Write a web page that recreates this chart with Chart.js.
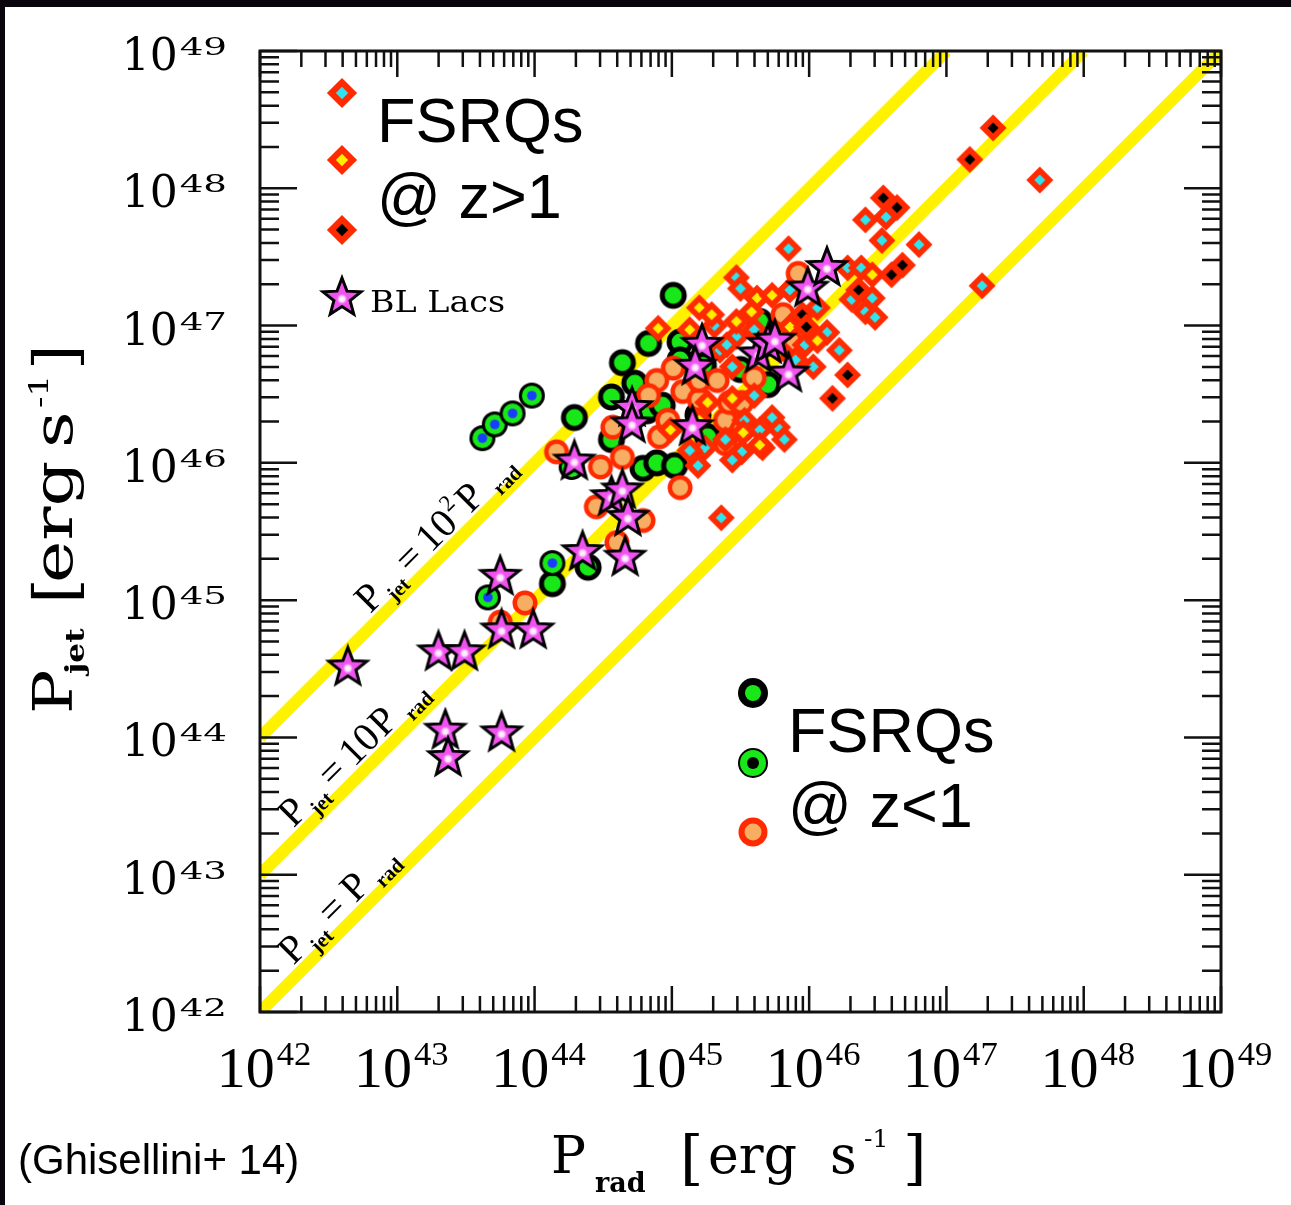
<!DOCTYPE html>
<html>
<head>
<meta charset="utf-8">
<script src="https://cdn.jsdelivr.net/npm/chart.js@4.4.0/dist/chart.umd.min.js"></script>
<style>
html, body { margin: 0; padding: 0; background: #fff; overflow: hidden; }
canvas { display: block; }
</style>
</head>
<body>
<canvas id="plot" width="1291" height="1205"></canvas>
<script>

// values are log10 of the powers in erg/s

var decades = [42, 43, 44, 45, 46, 47, 48, 49];
var ratios = [1, 10, 100];   // P_jet = r * P_rad

// FSRQs z>1, cyan centre
var hiCyanX = [47.68, 46.41, 46.56, 46.53, 46.80, 45.85, 47.26, 46.28, 46.38, 46.31, 46.46, 46.41, 46.48,
  46.13, 46.06, 45.47, 45.50, 46.22, 46.03, 45.77, 45.73, 45.66, 45.51, 45.44, 45.19, 45.36, 45.44,
  45.31, 45.47, 45.60, 45.82, 45.53, 45.39, 45.35, 45.90, 45.64, 45.24, 45.86, 45.40, 45.60, 45.97, 45.13];
var hiCyanY = [48.06, 47.77, 47.79, 47.62, 47.59, 47.56, 47.29, 47.42, 47.42, 47.19, 47.20, 47.10, 47.06,
  46.95, 47.13, 47.35, 47.27, 46.82, 46.70, 46.26, 46.33, 46.11, 46.08, 46.02, 45.98, 45.60, 46.70,
  47.00, 46.92, 46.49, 46.17, 46.31, 46.17, 46.82, 46.75, 46.24, 46.11, 47.26, 46.86, 46.97, 46.86, 46.09];

// FSRQs z>1, yellow centre
var hiYellowX = [46.46, 45.20, 45.29, 45.62, 45.73, 45.58, 45.47, 45.86, 46.06, 45.44, 45.52, 45.26, 44.99, 44.90, 45.79, 45.20, 45.13, 45.64];
var hiYellowY = [47.37, 47.13, 47.08, 47.20, 47.22, 47.10, 47.03, 46.99, 46.89, 46.47, 46.22, 46.44, 46.24, 46.98, 46.82, 46.31, 46.97, 46.13];

// FSRQs z>1, black centre
var hiBlackX = [47.34, 47.17, 46.54, 46.64, 46.68, 46.60, 46.36, 45.95, 45.98, 46.28, 46.17];
var hiBlackY = [48.44, 48.21, 47.93, 47.86, 47.44, 47.37, 47.26, 47.08, 46.99, 46.64, 46.47];

// FSRQs z<1, green with black rim
var loGreenX = [45.01, 44.83, 44.64, 44.56, 44.29, 44.56, 44.82, 44.93, 44.79, 44.89, 45.02, 45.26, 44.13,
  44.39, 45.06, 45.06, 45.23, 45.70, 45.70, 44.73, 45.50, 45.64, 45.19];
var loGreenY = [47.22, 46.87, 46.73, 46.48, 46.33, 46.17, 46.38, 46.42, 45.96, 46.00, 45.98, 46.19, 45.12,
  45.24, 46.88, 46.75, 46.71, 46.57, 46.97, 46.58, 46.68, 47.03, 46.35];

// FSRQs z<1, green with blue centre
var loBlueX = [43.62, 43.71, 43.84, 43.98, 44.13, 43.66, 44.27];
var loBlueY = [46.18, 46.28, 46.36, 46.49, 45.27, 45.02, 45.97];

// FSRQs z<1, red rim orange centre
var loOrangeX = [44.16, 44.48, 44.64, 44.57, 45.06, 44.79, 44.45, 44.60, 43.93, 45.01, 44.89, 45.08, 43.75,
  45.46, 45.39, 45.51, 45.20, 45.92, 45.81, 45.87, 45.60, 45.42, 45.51, 45.39, 44.91, 44.83, 45.20, 45.33, 44.97];
var loOrangeY = [46.08, 45.97, 46.04, 46.26, 45.82, 45.58, 45.68, 45.42, 44.98, 46.69, 46.60, 46.52, 44.84,
  46.42, 46.31, 46.24, 46.46, 47.38, 47.08, 46.88, 46.62, 46.44, 46.44, 46.14, 46.19, 46.49, 46.60, 46.60, 46.31];

// BL Lacs
var blLacX = [42.64, 43.30, 43.49, 43.76, 43.99, 43.75, 43.35, 43.37, 43.76, 44.29, 44.35, 44.66, 44.56,
  44.64, 44.68, 44.71, 44.71, 45.15, 45.22, 45.17, 45.63, 45.70, 45.85, 45.99, 46.13, 45.75];
var blLacY = [44.51, 44.62, 44.62, 44.78, 44.78, 45.17, 44.05, 43.85, 44.03, 46.01, 45.35, 45.31, 45.75,
  45.80, 45.60, 46.40, 46.28, 46.26, 46.86, 46.70, 46.79, 46.86, 46.65, 47.27, 47.42, 46.89];

function pts(xs, ys) {
  return xs.map(function(v, i) { return { x: Math.pow(10, v), y: Math.pow(10, ys[i]) }; });
}

// marker images
function mk(size, draw) {
  var c = document.createElement('canvas');
  c.width = c.height = size;
  var g = c.getContext('2d');
  g.translate(size / 2, size / 2);
  draw(g);
  return c;
}
function dia(g, r) {
  g.beginPath(); g.moveTo(0, -r); g.lineTo(r, 0); g.lineTo(0, r); g.lineTo(-r, 0); g.closePath();
}
function disc(g, r, col) {
  g.beginPath(); g.arc(0, 0, r, 0, Math.PI * 2); g.fillStyle = col; g.fill();
}
function diamond(inner, s) {
  return mk(36, function(g) {
    g.scale(s, s);
    g.fillStyle = '#ff2a00'; dia(g, 13.5); g.fill();
    g.fillStyle = inner; dia(g, 5.5); g.fill();
  });
}
var RED = '#ff2a00', GREEN = '#18e818', ORANGE = '#f7ae62', BLUE = '#1a3cff', MAG = '#f052f0';

var mCyan = diamond('#2fe4ee', 1);
var mYellow = diamond('#ffee00', 1);
var mBlack = diamond('#000', 1);
var lCyan = diamond('#2fe4ee', 1.12);
var lYellow = diamond('#ffee00', 1.12);
var lBlack = diamond('#000', 1.12);
var mGreen = mk(30, function(g) { disc(g, 13.5, '#000'); disc(g, 8.5, GREEN); });
var mBlue = mk(30, function(g) { disc(g, 13, '#000'); disc(g, 10, GREEN); disc(g, 4.8, BLUE); });
var mOrange = mk(30, function(g) { disc(g, 12.5, RED); disc(g, 8, ORANGE); });
var mLegGreen = mk(34, function(g) { disc(g, 15, '#000'); disc(g, 8, GREEN); });
var mLegRing = mk(34, function(g) { disc(g, 15, '#000'); disc(g, 13, GREEN); disc(g, 6, '#000'); });
var mLegOrange = mk(34, function(g) { disc(g, 14.5, RED); disc(g, 8.5, ORANGE); });
var mStar = mk(48, function(g) {
  g.beginPath();
  for (var i = 0; i < 10; i++) {
    var a = -Math.PI / 2 + i * Math.PI / 5, r = i % 2 ? 8.5 : 20;
    g.lineTo(r * Math.cos(a), r * Math.sin(a));
  }
  g.closePath();
  g.fillStyle = MAG; g.fill();
  g.lineWidth = 3; g.strokeStyle = '#000'; g.stroke();
  var rg = g.createRadialGradient(0, 1, 0, 0, 1, 6);
  rg.addColorStop(0, '#fff'); rg.addColorStop(0.5, '#fbd6fb'); rg.addColorStop(1, 'rgba(240,82,240,0)');
  g.fillStyle = rg; g.beginPath(); g.arc(0, 1, 6, 0, Math.PI * 2); g.fill();
});

// text helpers
function txt(ctx, s, x, y, font, sx) {
  ctx.save();
  ctx.translate(x, y);
  if (sx) ctx.scale(sx, 1);
  ctx.font = font;
  ctx.fillText(s, 0, 0);
  ctx.restore();
}
function wid(ctx, s, font, sx) {
  ctx.font = font;
  return ctx.measureText(s).width * (sx || 1);
}
function parts(ctx, x, y, ang, list) {
  ctx.save();
  ctx.translate(x, y);
  ctx.rotate(ang);
  list.forEach(function(p) { txt(ctx, p[0], p[1], p[2], p[3], p[4]); });
  ctx.restore();
}

var SER = 'px "DejaVu Serif"';
var TIM = 'px "Liberation Serif"';
var SANS = 'px "Liberation Sans"';

var decor = {
  id: 'decor',
  beforeDraw: function(chart) {
    var ctx = chart.ctx, W = ctx.canvas.width, H = ctx.canvas.height;
    ctx.save();
    ctx.setTransform(1, 0, 0, 1, 0, 0);
    ctx.fillStyle = '#fff';
    ctx.fillRect(0, 0, W, H);
    ctx.fillStyle = '#0a040c';
    ctx.fillRect(0, 0, W, 7);
    ctx.fillRect(0, 0, 5, H);
    ctx.restore();
  },
  afterDraw: function(chart) {
    var ctx = chart.ctx, a = chart.chartArea, xs = chart.scales.x, ys = chart.scales.y;
    ctx.save();

    // inward ticks on all four sides
    ctx.strokeStyle = '#111';
    ctx.lineWidth = 2.5;
    ctx.beginPath();
    decades.forEach(function(k) {
      for (var m = 1; m <= 9; m++) {
        if (k === 49 && m > 1) break;
        var v = m * Math.pow(10, k);
        var px = xs.getPixelForValue(v), py = ys.getPixelForValue(v);
        var lx = m === 1 ? 26 : 16, ly = m === 1 ? 37 : 19;
        ctx.moveTo(px, a.bottom); ctx.lineTo(px, a.bottom - lx);
        ctx.moveTo(px, a.top); ctx.lineTo(px, a.top + lx);
        ctx.moveTo(a.left, py); ctx.lineTo(a.left + ly, py);
        ctx.moveTo(a.right, py); ctx.lineTo(a.right - ly, py);
      }
    });
    ctx.stroke();
    ctx.lineWidth = 3;
    ctx.strokeRect(a.left, a.top, a.right - a.left, a.bottom - a.top);

    // tick labels
    ctx.fillStyle = '#000';
    ctx.textBaseline = 'alphabetic';
    decades.forEach(function(k) {
      var v = Math.pow(10, k), sup = String(k);
      // y axis
      var py = ys.getPixelForValue(v);
      var w1 = wid(ctx, '10', 44 + SER), w2 = wid(ctx, sup, 24 + SER, 1.55);
      var right = 227;
      txt(ctx, '10', right - w2 - 2 - w1, py + 19, 44 + SER);
      txt(ctx, sup, right - w2, py + 4, 24 + SER, 1.55);
      // x axis
      var px = xs.getPixelForValue(v);
      var u1 = wid(ctx, '10', 58 + TIM), u2 = wid(ctx, sup, 33 + TIM, 1.05);
      var left = px + 4 - (u1 + 2 + u2) / 2;
      txt(ctx, '10', left, 1087, 58 + TIM);
      txt(ctx, sup, left + u1 + 2, 1065, 33 + TIM, 1.05);
    });

    // axis titles
    parts(ctx, 551, 1173, 0, [
      ['P', 0, 0, 52 + SER],
      ['rad', 44, 19, 'bold 27' + SER],
      ['[', 129, 5, 60 + SER],
      ['erg', 157, 0, 52 + SER],
      ['s', 279, 0, 52 + SER],
      ['-1', 313, -26, 25 + SER],
      [']', 352, 5, 60 + SER]
    ]);
    parts(ctx, 72, 714, -Math.PI / 2, [
      ['P', 0, 0, 55 + SER, 1.2],
      ['jet', 40, 12, 'bold 26' + SER, 1.2],
      ['[', 110, 4, 60 + SER, 1.1],
      ['erg', 131, 0, 55 + SER, 1.3],
      ['s', 266, 0, 55 + SER, 1.3],
      ['-1', 306, -24, 26 + SER, 1.3],
      [']', 344, 4, 60 + SER, 1.1]
    ]);

    // labels along the P_jet = r P_rad lines
    var starts = [42.29, 42.29, 42.85];
    var lines = [
      [['P', 0, 0, 40 + TIM], ['jet', 26, 9, 'bold 21' + TIM], ['=', 56, 0, 40 + TIM], ['P', 88, 0, 40 + TIM], ['rad', 118, 9, 'bold 21' + TIM]],
      [['P', 0, 0, 40 + TIM], ['jet', 26, 9, 'bold 21' + TIM], ['=', 56, 0, 40 + TIM], ['10', 86, 0, 40 + TIM], ['P', 128, 0, 40 + TIM], ['rad', 160, 9, 'bold 21' + TIM]],
      [['P', 0, 0, 40 + TIM], ['jet', 26, 9, 'bold 21' + TIM], ['=', 56, 0, 40 + TIM], ['10', 86, 0, 40 + TIM], ['2', 127, -17, 23 + TIM], ['P', 142, 0, 40 + TIM], ['rad', 176, 9, 'bold 21' + TIM]]
    ];
    ratios.forEach(function(r, i) {
      var vx = Math.pow(10, starts[i]);
      var lx0 = xs.getPixelForValue(vx), ly0 = ys.getPixelForValue(vx * r);
      // step up-left from the line centre, perpendicular to it
      parts(ctx, lx0 - 6.4, ly0 - 6.4, -Math.PI / 4, lines[i]);
    });

    // in-plot legends
    ctx.drawImage(lCyan, 342 - 18, 93 - 18);
    ctx.drawImage(lYellow, 342 - 18, 160 - 18);
    ctx.drawImage(lBlack, 342 - 18, 230 - 18);
    ctx.drawImage(mStar, 342 - 24, 298 - 24);
    txt(ctx, 'FSRQs', 377, 142, 63 + SANS);
    txt(ctx, '@ z>1', 377, 218, 63 + SANS);
    txt(ctx, 'BL Lacs', 370, 312, 29 + SER, 1.15);

    ctx.drawImage(mLegGreen, 753 - 17, 693 - 17);
    ctx.drawImage(mLegRing, 753 - 17, 763 - 17);
    ctx.drawImage(mLegOrange, 753 - 17, 832 - 17);
    txt(ctx, 'FSRQs', 788, 752, 63 + SANS);
    txt(ctx, '@ z<1', 788, 827, 63 + SANS);

    txt(ctx, '(Ghisellini+ 14)', 18, 1174, 42 + SANS);
    ctx.restore();
  }
};

function marks(data, img, order) {
  return { data: data, pointStyle: img, pointRadius: 12, pointHoverRadius: 12, showLine: false, order: order };
}

var sets = ratios.map(function(r) {
  return {
    data: [{ x: 1e42, y: 1e42 * r }, { x: 1e49 / r, y: 1e49 }],
    showLine: true, borderColor: '#fff200', borderWidth: 12, pointRadius: 0, fill: false, order: 20
  };
});
sets.push(marks(pts(loGreenX, loGreenY), mGreen, 9));
sets.push(marks(pts(loBlueX, loBlueY), mBlue, 8));
sets.push(marks(pts(loOrangeX, loOrangeY), mOrange, 7));
sets.push(marks(pts(hiCyanX, hiCyanY), mCyan, 5));
sets.push(marks(pts(hiYellowX, hiYellowY), mYellow, 4));
sets.push(marks(pts(hiBlackX, hiBlackY), mBlack, 3));
sets.push(marks(pts(blLacX, blLacY), mStar, 0));

new Chart(document.getElementById('plot'), {
  type: 'scatter',
  data: { datasets: sets },
  options: {
    responsive: false,
    devicePixelRatio: 1,
    animation: false,
    layout: { padding: { left: 260, top: 51, right: 70, bottom: 193 } },
    scales: {
      x: { type: 'logarithmic', min: 1e42, max: 1e49, display: false },
      y: { type: 'logarithmic', min: 1e42, max: 1e49, display: false }
    },
    plugins: { legend: { display: false }, tooltip: { enabled: false } }
  },
  plugins: [decor]
});
</script>
</body>
</html>
